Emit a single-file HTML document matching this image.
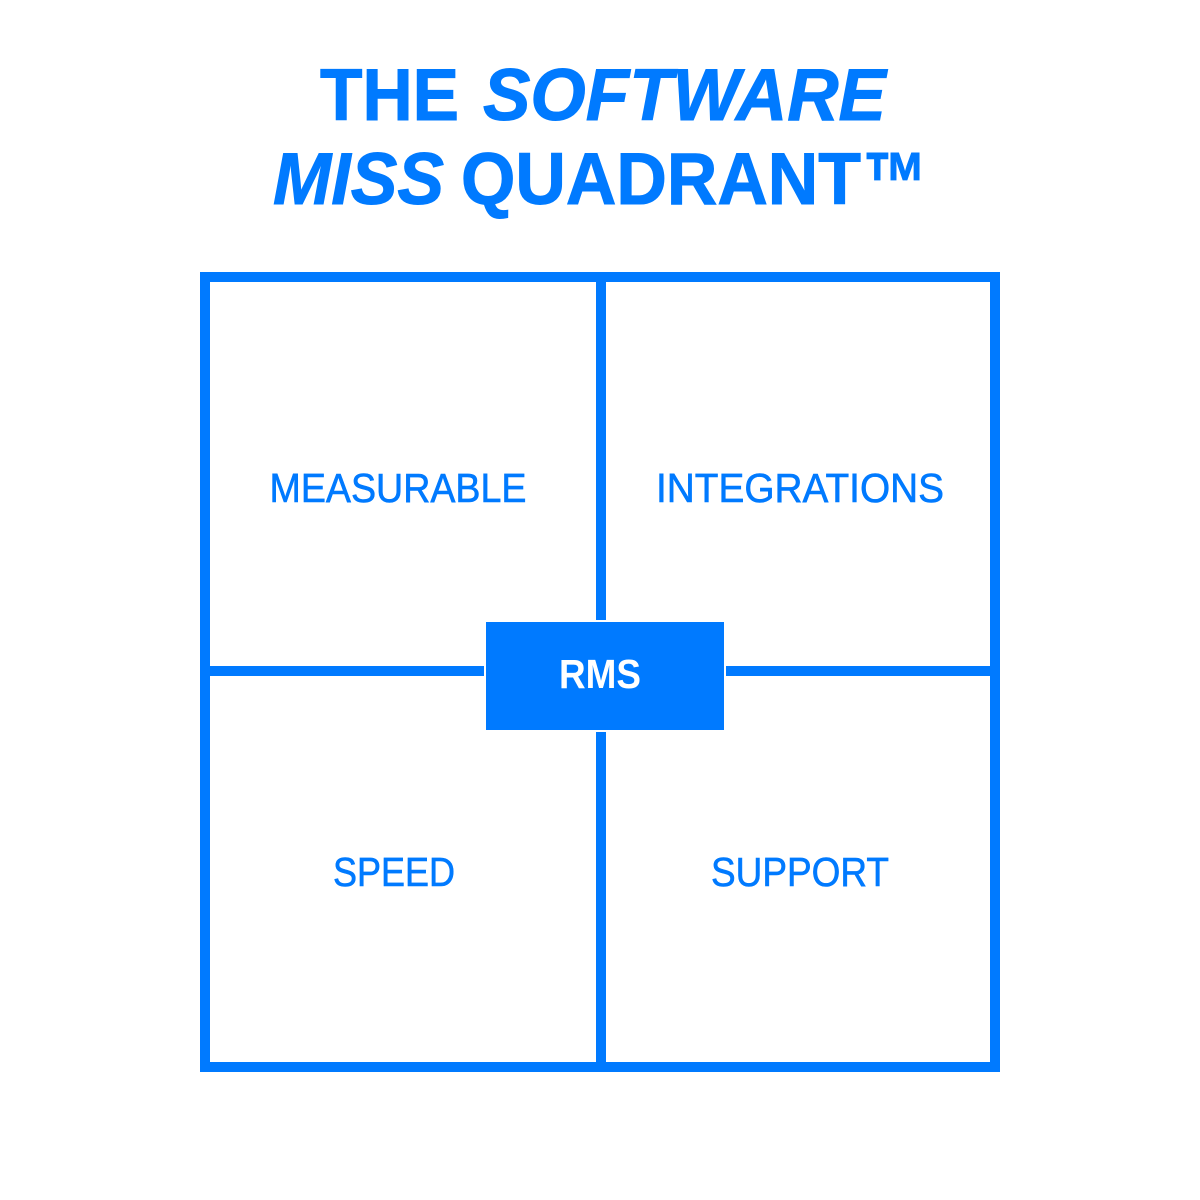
<!DOCTYPE html>
<html>
<head>
<meta charset="utf-8">
<style>
html,body{margin:0;padding:0;background:#fff;}
svg{display:block;}
</style>
</head>
<body>
<svg width="1200" height="1200" viewBox="0 0 1200 1200" xmlns="http://www.w3.org/2000/svg">
<rect width="1200" height="1200" fill="#fff"/>
<g font-family="Liberation Sans, sans-serif" font-weight="700" font-size="73" fill="#007aff" stroke="#007aff" stroke-width="1">
<text x="320" y="120" textLength="139" lengthAdjust="spacingAndGlyphs">THE</text>
<text x="483" y="120" font-style="italic" textLength="403" lengthAdjust="spacingAndGlyphs">SOFTWARE</text>
<text x="273" y="204" font-style="italic" textLength="171" lengthAdjust="spacingAndGlyphs">MISS</text>
<text x="461" y="204" textLength="400" lengthAdjust="spacingAndGlyphs">QUADRANT</text>
<text x="863" y="212" font-size="86" textLength="64" lengthAdjust="spacingAndGlyphs">™</text>
</g>
<rect x="205" y="277" width="790" height="790" fill="none" stroke="#007aff" stroke-width="10"/>
<rect x="596" y="277" width="10" height="790" fill="#007aff"/>
<rect x="205" y="666" width="790" height="10" fill="#007aff"/>
<rect x="484" y="620" width="242" height="112" fill="#fff"/>
<rect x="486" y="622" width="238" height="108" fill="#007aff"/>
<g font-family="Liberation Sans, sans-serif" font-size="41" fill="#007aff" stroke="#007aff" stroke-width="0.6" text-anchor="middle">
<text x="398" y="502" textLength="257" lengthAdjust="spacingAndGlyphs">MEASURABLE</text>
<text x="800" y="502" textLength="288" lengthAdjust="spacingAndGlyphs">INTEGRATIONS</text>
<text x="394" y="886" textLength="122" lengthAdjust="spacingAndGlyphs">SPEED</text>
<text x="800" y="886" textLength="178" lengthAdjust="spacingAndGlyphs">SUPPORT</text>
</g>
<text x="600" y="688" text-anchor="middle" font-family="Liberation Sans, sans-serif" font-weight="700" font-size="41" fill="#fff" textLength="82" lengthAdjust="spacingAndGlyphs">RMS</text>
</svg>
</body>
</html>
